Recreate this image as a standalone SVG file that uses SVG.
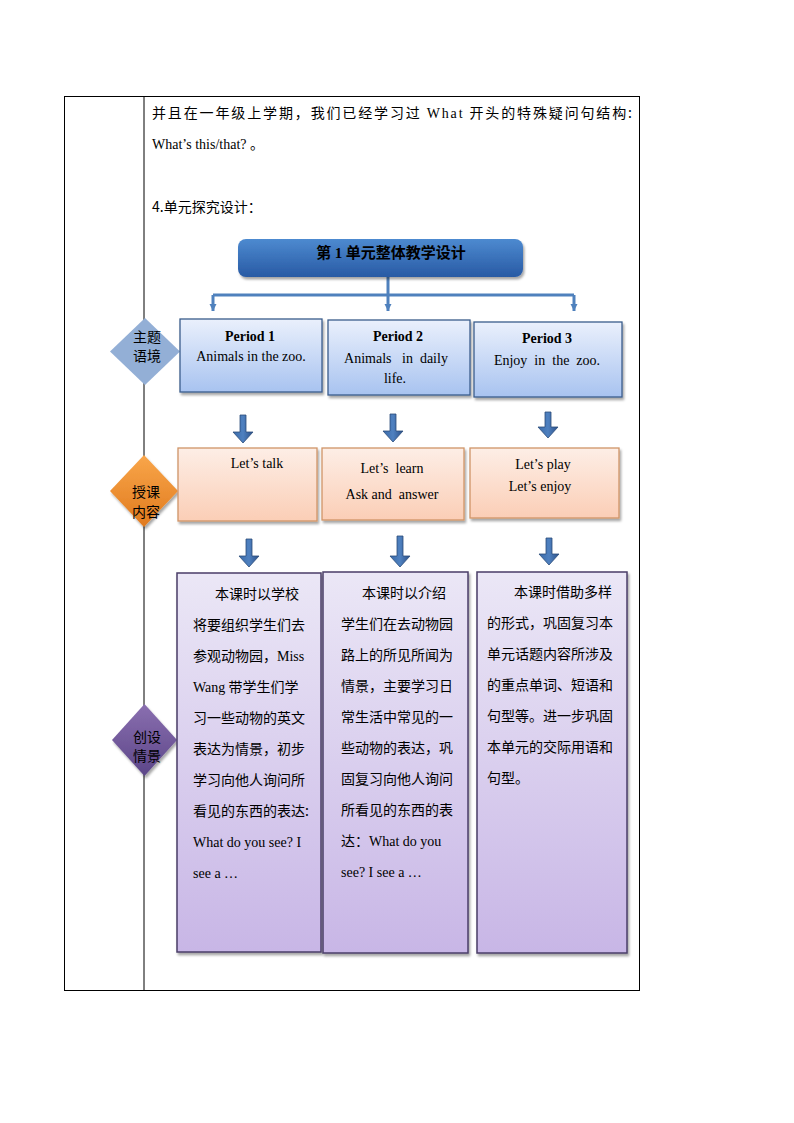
<svg xmlns="http://www.w3.org/2000/svg" width="794" height="1123" viewBox="0 0 794 1123">
<style>
.cjk{font-family:"Noto Sans CJK SC","Liberation Sans",sans-serif;font-size:14px;fill:#000}
.ser{font-family:"Liberation Serif","Noto Sans CJK SC",serif;font-size:14px;fill:#000}
.mix{font-family:"Liberation Serif","Noto Sans CJK SC",serif;font-size:14px;fill:#000}
.b{font-weight:bold}
.mid{text-anchor:middle}
.conn{stroke:#4f81bd;stroke-width:3;fill:none}
.blk{fill:url(#gArrow);stroke:#2c4d7a;stroke-width:0.8}
.per{fill:url(#gBlue);stroke:#3b5c8c;stroke-width:1.3}
.ora{fill:url(#gOrange);stroke:#d09468;stroke-width:1.3}
.pur{fill:url(#gPurple);stroke:#4a3d68;stroke-width:1.5}
</style>
<defs>
<linearGradient id="gTitle" x1="0" y1="0" x2="0" y2="1"><stop offset="0" stop-color="#4d8ad0"/><stop offset="1" stop-color="#285aa4"/></linearGradient>
<linearGradient id="gBlue" x1="0" y1="0" x2="0" y2="1"><stop offset="0" stop-color="#eaf0fc"/><stop offset="1" stop-color="#a8c3f0"/></linearGradient>
<linearGradient id="gOrange" x1="0" y1="0" x2="0" y2="1"><stop offset="0" stop-color="#fdeee6"/><stop offset="1" stop-color="#fbceb6"/></linearGradient>
<linearGradient id="gPurple" x1="0" y1="0" x2="0" y2="1"><stop offset="0" stop-color="#ebe7f6"/><stop offset="1" stop-color="#c8b6e6"/></linearGradient>
<linearGradient id="gArrow" x1="0" y1="0" x2="1" y2="0"><stop offset="0" stop-color="#3a6aa8"/><stop offset="0.5" stop-color="#4f81c0"/><stop offset="1" stop-color="#2c5088"/></linearGradient>
<linearGradient id="gDOr" x1="0" y1="0" x2="0" y2="1"><stop offset="0" stop-color="#f9a64a"/><stop offset="1" stop-color="#e07a1e"/></linearGradient>
<linearGradient id="gDPu" x1="0" y1="0" x2="0" y2="1"><stop offset="0" stop-color="#8a6fb0"/><stop offset="1" stop-color="#5c4688"/></linearGradient>
<filter id="sh" x="-10%" y="-10%" width="130%" height="130%"><feDropShadow dx="1.5" dy="2.5" stdDeviation="1" flood-color="#000" flood-opacity="0.35"/></filter>
<marker id="ah" viewBox="0 0 10 10" refX="10" refY="5" markerWidth="7" markerHeight="9" orient="auto" markerUnits="userSpaceOnUse"><path d="M0,0 L10,5 L0,10 Z" fill="#4f81bd"/></marker>
</defs>

<g id="table">
<rect x="64.5" y="96.5" width="575" height="894" fill="#fff" stroke="#000" stroke-width="1"/>
<line x1="144" y1="96.5" x2="144" y2="990.5" stroke="#000" stroke-width="1"/>
</g>

<g id="intro">
<text class="cjk" x="152" y="118" textLength="480" lengthAdjust="spacing">并且在一年级上学期，我们已经学习过 <tspan class="ser">What</tspan> 开头的特殊疑问句结构:</text>
<text class="mix" x="152" y="149">What’s this/that? 。</text>
<text class="cjk" x="152" y="212">4.单元探究设计：</text>
</g>

<g id="connectors">
<path class="conn" d="M388,277 V295"/>
<path class="conn" d="M213,295 H574"/>
<path class="conn" d="M213,295 V311" marker-end="url(#ah)"/>
<path class="conn" d="M388,295 V311" marker-end="url(#ah)"/>
<path class="conn" d="M574,295 V311" marker-end="url(#ah)"/>
<path class="blk" d="M240,415 h6 v17 h7 l-10,11 l-10,-11 h7 z"/>
<path class="blk" d="M390,414 h6 v17 h7 l-10,11 l-10,-11 h7 z"/>
<path class="blk" d="M545,412 h6 v15 h7 l-10,11 l-10,-11 h7 z"/>
<path class="blk" d="M246,539 h6 v17 h7 l-10,11 l-10,-11 h7 z"/>
<path class="blk" d="M397,536 h6 v20 h7 l-10,11 l-10,-11 h7 z"/>
<path class="blk" d="M546,538 h6 v16 h7 l-10,11 l-10,-11 h7 z"/>
</g>

<g id="title">
<rect x="238" y="239" width="285" height="38" rx="8" fill="url(#gTitle)" filter="url(#sh)"/>
<text class="cjk b" x="391" y="258" style="font-size:15px" text-anchor="middle">第 <tspan class="ser b" style="font-size:15px">1</tspan> 单元整体教学设计</text>
</g>

<g id="diamond1">
<polygon points="145,318 180,351.5 145,385 110,351.5" fill="#93afd6"/>
<text class="cjk mid" x="147" y="342">主题</text>
<text class="cjk mid" x="147" y="361">语境</text>
</g>
<g id="diamond2">
<polygon points="144,455 178,491 144,527 110,491" fill="url(#gDOr)" filter="url(#sh)"/>
<text class="cjk mid" x="146" y="497">授课</text>
<text class="cjk mid" x="146" y="517">内容</text>
</g>
<g id="diamond3">
<polygon points="144.5,704 177,740 144.5,776 112,740" fill="url(#gDPu)" filter="url(#sh)"/>
<text class="cjk mid" x="147" y="742">创设</text>
<text class="cjk mid" x="147" y="761">情景</text>
</g>

<g id="period1">
<rect class="per" x="180" y="319" width="142" height="73" filter="url(#sh)"/>
<text class="ser b mid" x="250" y="341">Period 1</text>
<text class="ser mid" x="251" y="361">Animals  in  the zoo.</text>
</g>
<g id="period2">
<rect class="per" x="328" y="320" width="142" height="75" filter="url(#sh)"/>
<text class="ser b mid" x="398" y="341">Period 2</text>
<text class="ser mid" x="396" y="363" xml:space="preserve">Animals   in  daily</text>
<text class="ser mid" x="395" y="383">life.</text>
</g>
<g id="period3">
<rect class="per" x="474" y="322" width="148" height="75" filter="url(#sh)"/>
<text class="ser b mid" x="547" y="343">Period 3</text>
<text class="ser mid" x="547" y="365" xml:space="preserve">Enjoy  in  the  zoo.</text>
</g>

<g id="lesson1">
<rect class="ora" x="178" y="448" width="139" height="73" filter="url(#sh)"/>
<text class="ser mid" x="257" y="468">Let’s talk</text>
</g>
<g id="lesson2">
<rect class="ora" x="322" y="448" width="142" height="72" filter="url(#sh)"/>
<text class="ser mid" x="392" y="473" xml:space="preserve">Let’s  learn</text>
<text class="ser mid" x="392" y="499" xml:space="preserve">Ask and  answer</text>
</g>
<g id="lesson3">
<rect class="ora" x="470" y="448" width="149" height="70" filter="url(#sh)"/>
<text class="ser mid" x="543" y="469">Let’s play</text>
<text class="ser mid" x="540" y="491">Let’s enjoy</text>
</g>

<g id="scene1">
<rect class="pur" x="177" y="573" width="144" height="379" filter="url(#sh)"/>
<text class="cjk" x="215" y="599">本课时以学校</text>
<text class="cjk" x="193" y="630">将要组织学生们去</text>
<text class="cjk" x="193" y="661">参观动物园，<tspan class="ser">Miss</tspan></text>
<text class="cjk" x="193" y="692"><tspan class="ser">Wang</tspan> 带学生们学</text>
<text class="cjk" x="193" y="723">习一些动物的英文</text>
<text class="cjk" x="193" y="754">表达为情景，初步</text>
<text class="cjk" x="193" y="785">学习向他人询问所</text>
<text class="cjk" x="193" y="816">看见的东西的表达:</text>
<text class="ser" x="193" y="847">What do you see? I</text>
<text class="ser" x="193" y="878">see a …</text>
</g>
<g id="scene2">
<rect class="pur" x="323" y="572" width="145" height="381" filter="url(#sh)"/>
<text class="cjk" x="362" y="598">本课时以介绍</text>
<text class="cjk" x="341" y="629">学生们在去动物园</text>
<text class="cjk" x="341" y="660">路上的所见所闻为</text>
<text class="cjk" x="341" y="691">情景，主要学习日</text>
<text class="cjk" x="341" y="722">常生活中常见的一</text>
<text class="cjk" x="341" y="753">些动物的表达，巩</text>
<text class="cjk" x="341" y="784">固复习向他人询问</text>
<text class="cjk" x="341" y="815">所看见的东西的表</text>
<text class="cjk" x="341" y="846">达：<tspan class="ser">What do you</tspan></text>
<text class="ser" x="341" y="877">see? I see a …</text>
</g>
<g id="scene3">
<rect class="pur" x="477" y="572" width="150" height="381" filter="url(#sh)"/>
<text class="cjk" x="514" y="597">本课时借助多样</text>
<text class="cjk" x="487" y="628">的形式，巩固复习本</text>
<text class="cjk" x="487" y="659">单元话题内容所涉及</text>
<text class="cjk" x="487" y="690">的重点单词、短语和</text>
<text class="cjk" x="487" y="721">句型等。进一步巩固</text>
<text class="cjk" x="487" y="752">本单元的交际用语和</text>
<text class="cjk" x="487" y="783">句型。</text>
</g>
</svg>
